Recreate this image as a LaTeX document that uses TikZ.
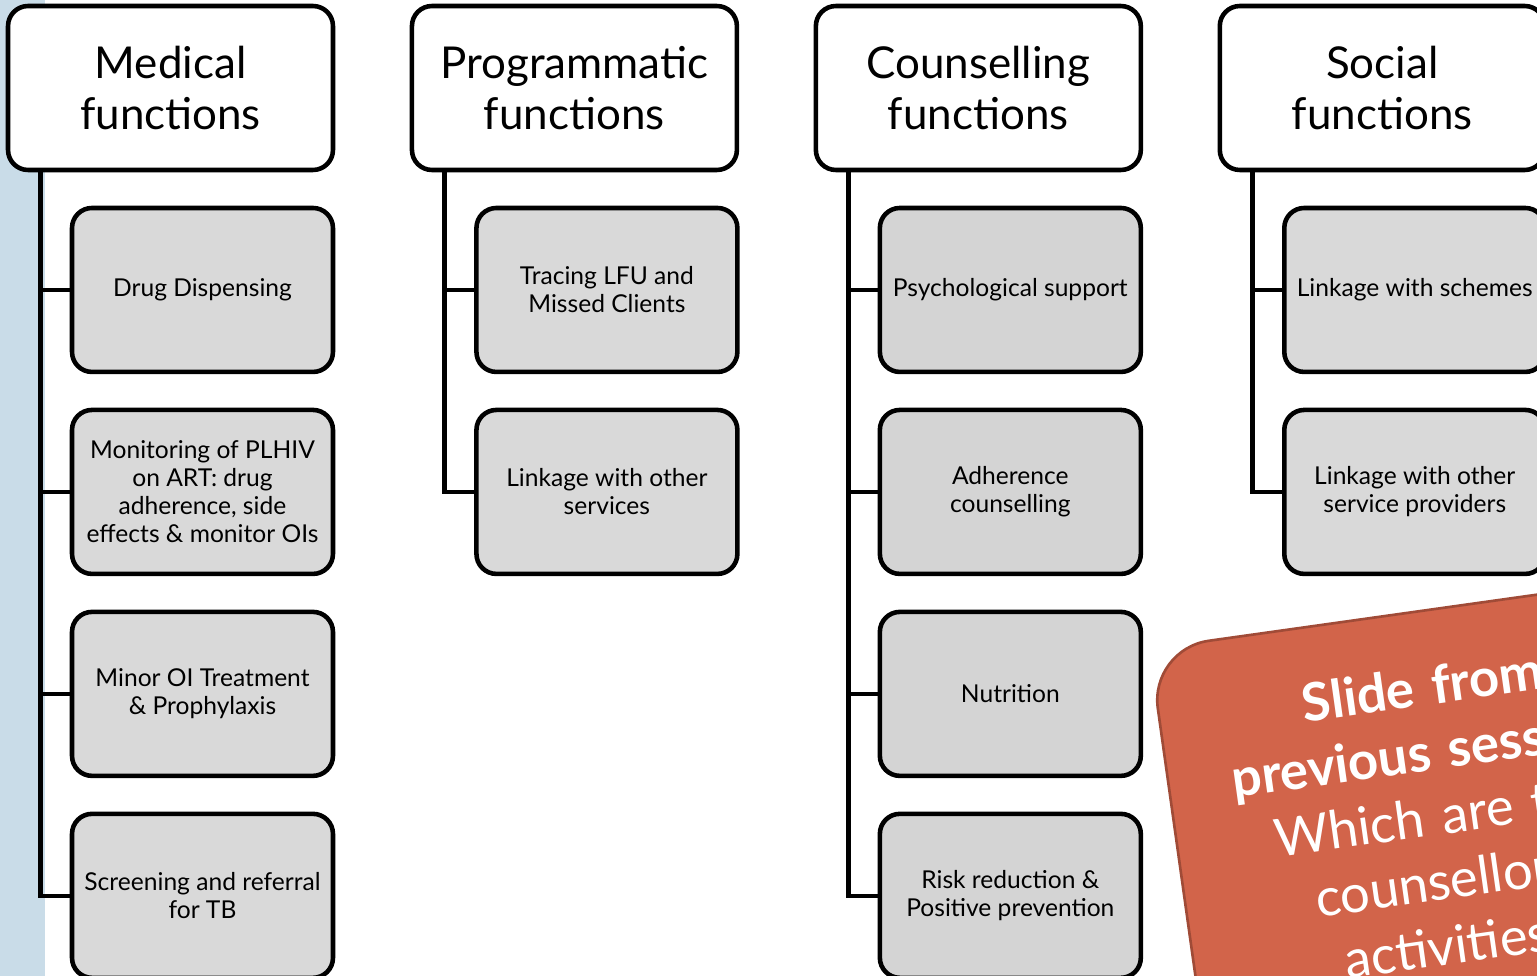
\documentclass[tikz,border=0pt]{standalone}
\usepackage{fontspec}
\setmainfont{Lato}
\usetikzlibrary{positioning}
\definecolor{stripblue}{HTML}{C9DCE8}
\definecolor{notefill}{HTML}{D2644A}
\definecolor{noteline}{HTML}{A04B37}

\begin{document}
\begin{tikzpicture}[x=0.02cm,y=-0.02cm,node distance=4.04cm,on grid,line width=2.6pt]
  % Define rounded boxes for the function groups and their tasks
  \tikzstyle{nodeHead}=[rectangle,rounded corners=0.4cm,draw=black,fill=white,minimum width=6.5cm,minimum height=3.28cm,align=center,font=\fontsize{25}{29.5}\selectfont]
  \tikzstyle{nodeTask}=[rectangle,rounded corners=0.4cm,draw=black,fill=black!15,minimum width=5.22cm,minimum height=3.28cm,align=center,font=\fontsize{14}{16}\selectfont]
  \tikzstyle{nodeTaskD}=[nodeTask,fill=black!17]
  \tikzstyle{nodeNote}=[rectangle,rounded corners=1.2cm,draw=noteline,line width=1.5pt,fill=notefill,text=white,text width=9cm,inner xsep=0.8cm,inner ysep=1.1cm,align=center,font=\fontsize{30}{37}\selectfont]
  \tikzstyle{branch}=[draw=black,line width=2.6pt]

  \useasboundingbox (0,0) rectangle (1537,976);
  \fill[stripblue] (0,0) rectangle (45,976);

  \node[nodeHead] (med)                      at (170.5,88) {Medical\\functions};
  \node[nodeHead] (prog) [right=8.08cm of med]  {Programmatic\\functions};
  \node[nodeHead] (couns) [right=8.08cm of prog] {Counselling\\functions};
  \node[nodeHead] (soc) [right=8.08cm of couns]  {Social\\functions};

  \node[nodeTask] (med1) [below right=4.04cm and 0.64cm of med] {Drug Dispensing};
  \node[nodeTask] (med2) [below=of med1] {Monitoring of PLHIV\\on ART: drug\\adherence, side\\effects \& monitor OIs};
  \node[nodeTask] (med3) [below=of med2] {Minor OI Treatment\\\& Prophylaxis};
  \node[nodeTask] (med4) [below=of med3] {Screening and referral\\for TB};

  \node[nodeTask] (prog1) [below right=4.04cm and 0.65cm of prog] {Tracing LFU and\\Missed Clients};
  \node[nodeTask] (prog2) [below=of prog1] {Linkage with other\\services};

  \node[nodeTaskD] (couns1) [below right=4.04cm and 0.64cm of couns] {Psychological support};
  \node[nodeTaskD] (couns2) [below=of couns1] {Adherence\\counselling};
  \node[nodeTaskD] (couns3) [below=of couns2] {Nutrition};
  \node[nodeTaskD] (couns4) [below=of couns3] {Risk reduction \&\\Positive prevention};

  \node[nodeTask] (soc1) [below right=4.04cm and 0.65cm of soc] {Linkage with schemes};
  \node[nodeTask] (soc2) [below=of soc1] {Linkage with other\\service providers};

  % bus lines down the left side of each group
  \coordinate (medbus)   at ([xshift=0.7cm]med.south west);
  \coordinate (progbus)  at ([xshift=0.7cm]prog.south west);
  \coordinate (counsbus) at ([xshift=0.7cm]couns.south west);
  \coordinate (socbus)   at ([xshift=0.7cm]soc.south west);

  \path[branch] (medbus) |- (med4.west);
  \foreach \i in {1,2,3} \path[branch] (medbus |- med\i.west) -- (med\i.west);
  \path[branch] (progbus) |- (prog2.west);
  \path[branch] (progbus |- prog1.west) -- (prog1.west);
  \path[branch] (counsbus) |- (couns4.west);
  \foreach \i in {1,2,3} \path[branch] (counsbus |- couns\i.west) -- (couns\i.west);
  \path[branch] (socbus) |- (soc2.west);
  \path[branch] (socbus |- soc1.west) -- (soc1.west);

  \node[nodeNote, anchor=north west, rotate=8] (prompt) at (1148,648)
    {\textbf{Slide from}\\\textbf{previous session:}\\Which are the\\counsellor's\\activities?};
\end{tikzpicture}
\end{document}
